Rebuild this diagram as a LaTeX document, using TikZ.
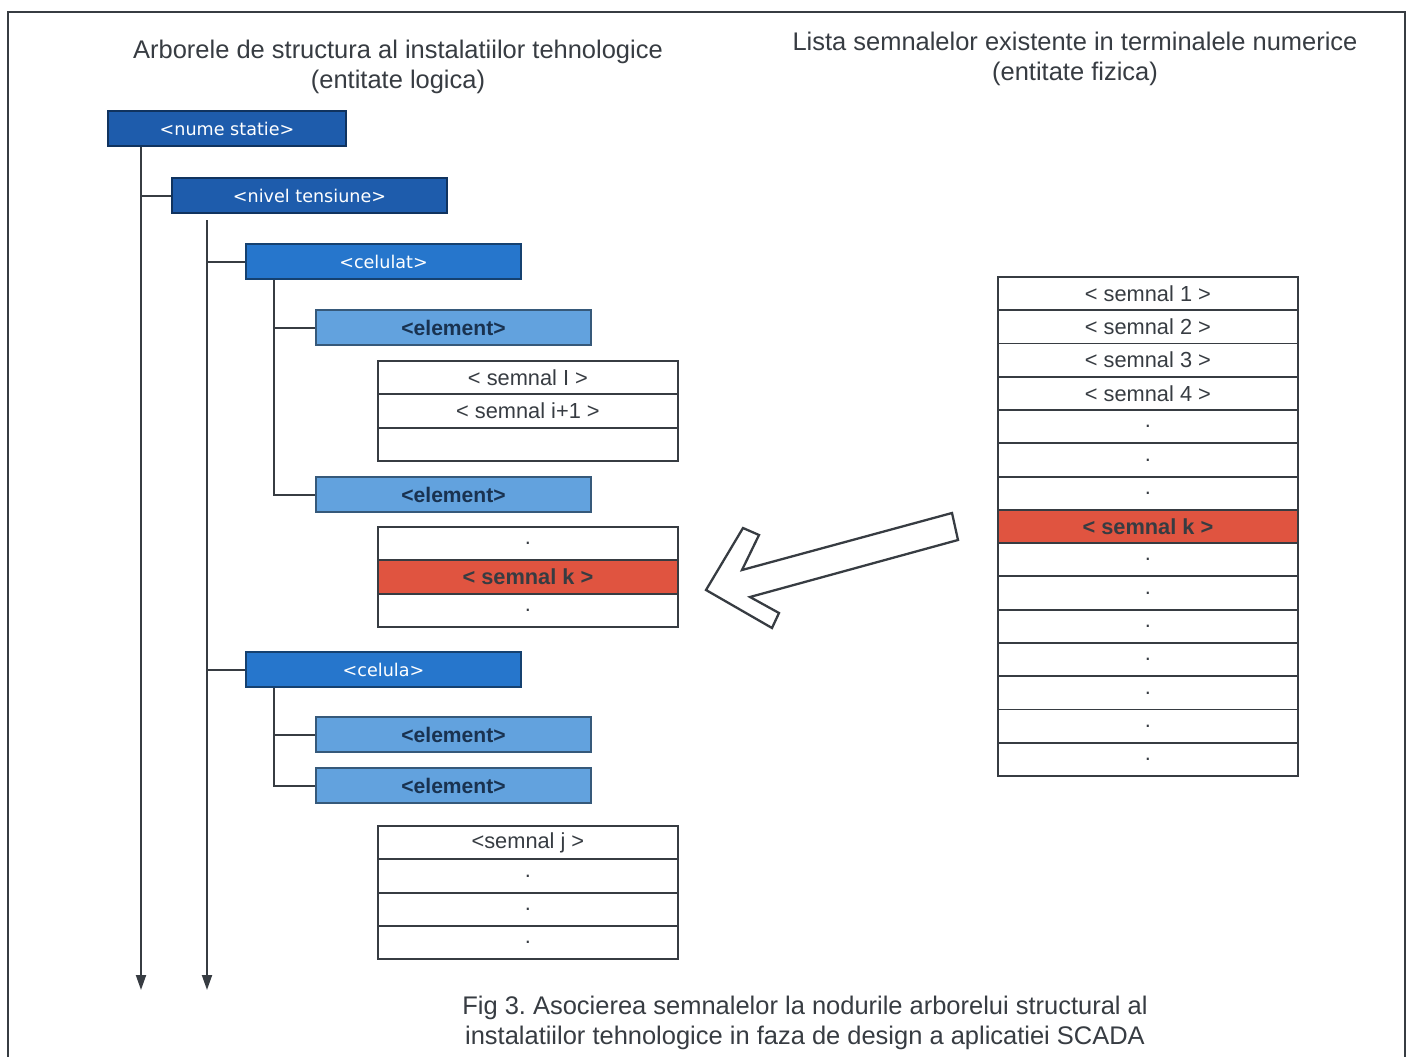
\documentclass[tikz,border=0pt]{standalone}
\usepackage{fontspec}
\setmainfont{Liberation Sans}
\newfontfamily\boxfont{DejaVu Sans}
\usetikzlibrary{arrows.meta, positioning}
\definecolor{statblue}{RGB}{30, 92, 172}
\definecolor{cellblue}{RGB}{38, 118, 204}
\definecolor{elemblue}{RGB}{98, 162, 222}
\definecolor{elemtext}{RGB}{25, 50, 80}
\definecolor{sigred}{RGB}{224, 84, 64}
\definecolor{inkgray}{RGB}{55, 60, 66}
\frenchspacing

\begin{document}
\begin{tikzpicture}[x=0.02cm, y=-0.02cm,
    lvlbox/.style={draw=#1!55!black, fill=#1, line width=1.2pt, anchor=north west,
      minimum width=5.5cm, minimum height=0.7cm, inner sep=0pt, text=white,
      font=\boxfont\fontsize{10}{12}\selectfont},
    elembox/.style={lvlbox=elemblue, text=elemtext,
      font=\bfseries\fontsize{12}{14}\selectfont},
    sigrow/.style={draw=inkgray, line width=1.1pt, anchor=north west,
      minimum width=6cm, minimum height=0.666cm, inner sep=0pt, text=inkgray,
      font=\fontsize{12.4}{14}\selectfont},
    sigkrow/.style={sigrow, fill=sigred, font=\bfseries\fontsize{12.4}{14}\selectfont},
    trunk/.style={draw=inkgray, line width=1.1pt, -{Triangle[length=3mm, width=2mm]}},
    branch/.style={draw=inkgray, line width=1.1pt},
    heading/.style={align=center, text=inkgray, font=\fontsize{14.5}{17.5}\selectfont}]
  \useasboundingbox (0,0) rectangle (1410,1057);

  % --- frame ---
  \draw[inkgray, line width=1.2pt] (8,1057) -- (8,12) -- (1405,12) -- (1405,1057);

  % --- headings ---
  \node[heading] (titleL) at (398,67)
    {Arborele de structura al instalatiilor tehnologice\\(entitate logica)};
  \node[heading] (titleR) at (1075,59)
    {Lista semnalelor existente in terminalele numerice\\(entitate fizica)};
  \node[heading] (caption) at (805,1023)
    {Fig 3. Asocierea semnalelor la nodurile arborelui structural al\\instalatiilor tehnologice in faza de design a aplicatiei SCADA};

  % --- structure tree (entitate logica) ---
  \node[lvlbox=statblue, minimum width=4.76cm] (ns) at (107,110) {<nume statie>};
  \node[lvlbox=statblue] (nt) at (171,177) {<nivel tensiune>};
  \node[lvlbox=cellblue] (cl1) at (245,243) {<celulat>};
  \node[elembox] (el1) at (315,309) {<element>};
  \node[elembox] (el2) at (315,476) {<element>};
  \node[lvlbox=cellblue] (cl2) at (245,651) {<celula>};
  \node[elembox] (el3) at (315,716) {<element>};
  \node[elembox] (el4) at (315,767) {<element>};

  % signals attached to the elements
  \foreach \lbl [count=\i] in {{< semnal I >},{< semnal i+1 >},{}}
    \node[sigrow] (ta\i) at (377,{360+33.3*(\i-1)}) {\lbl};
  \foreach \lbl/\sty [count=\i] in {./sigrow, {< semnal k >}/sigkrow, ./sigrow}
    \node[\sty] (tb\i) at (377,{526+33.3*(\i-1)}) {\lbl};
  \foreach \lbl [count=\i] in {{<semnal j >},.,.,.}
    \node[sigrow] (tc\i) at (377,{825+33.3*(\i-1)}) {\lbl};

  % tree lines
  \coordinate (endA) at (141,990);
  \coordinate (endB) at (207,990);
  \draw[trunk] (ns.south -| endA) -- (endA);
  \draw[trunk] ([yshift=-0.12cm]nt.south -| endB) -- (endB);
  \draw[branch] (nt.west) -- (nt.west -| endA);
  \draw[branch] (cl1.west) -- (cl1.west -| endB);
  \draw[branch] (cl2.west) -- (cl2.west -| endB);
  \coordinate (subA) at ([xshift=0.58cm]cl1.south west);
  \coordinate (subB) at ([xshift=0.58cm]cl2.south west);
  \draw[branch] (subA) |- (el2.west);
  \draw[branch] (el1.west) -- (el1.west -| subA);
  \draw[branch] (subB) |- (el4.west);
  \draw[branch] (el3.west) -- (el3.west -| subB);

  % --- signal list (entitate fizica) ---
  \foreach \lbl/\sty [count=\i] in {{< semnal 1 >}/sigrow, {< semnal 2 >}/sigrow,
      {< semnal 3 >}/sigrow, {< semnal 4 >}/sigrow, ./sigrow, ./sigrow, ./sigrow,
      {< semnal k >}/sigkrow, ./sigrow, ./sigrow, ./sigrow, ./sigrow, ./sigrow,
      ./sigrow, ./sigrow}
    \node[\sty] (sr\i) at (997,{276+33.27*(\i-1)}) {\lbl};

  % hollow association arrow
  \draw[inkgray, line width=1.3pt, fill=white, line join=miter]
    (952,513) -- (742,570) -- (759,535) -- (743,528) -- (706,590)
    -- (772,628) -- (779,613) -- (750,597) -- (958,540) -- cycle;
\end{tikzpicture}
\end{document}
